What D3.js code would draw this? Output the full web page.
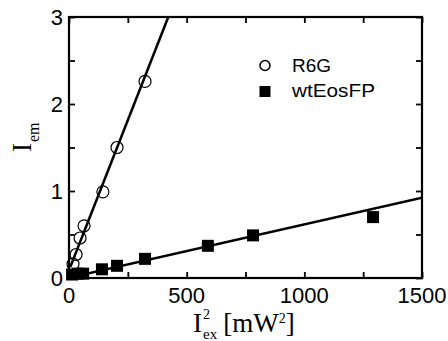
<!DOCTYPE html>
<html>
<head>
<meta charset="utf-8">
<script src="https://cdn.jsdelivr.net/npm/d3@7"></script>
<style>
html,body{margin:0;padding:0;background:#fff;}
svg{display:block;}
</style>
</head>
<body>
<svg id="chart" width="448" height="341"></svg>
<script>
// Data
const r6gX = [17, 30, 47, 64, 144, 204, 323];
const r6gY = [0.16, 0.27, 0.46, 0.60, 0.99, 1.50, 2.26];
const eosX = [13, 38, 60, 140, 204, 323, 590, 782, 1292];
const eosY = [0.04, 0.05, 0.05, 0.10, 0.14, 0.22, 0.37, 0.49, 0.70];
// Linear fits (slope, intercept, x range)
const r6gFit = {slope: 0.0069, intercept: 0.09, x0: 5, x1: 421};
const eosFit = {slope: 0.000613, intercept: 0.003, x0: 0, x1: 1500};
const xTickLabels = [0, 500, 1000, 1500];
const xTicksAll = [0, 250, 500, 750, 1000, 1250, 1500];
const yTickLabels = [0, 1, 2, 3];
const yTicksAll = [0, 0.5, 1, 1.5, 2, 2.5, 3];
const legendLabels = ["R6G", "wtEosFP"];

const svg = d3.select("#chart");
const L = 69, R = 422, T = 17, B = 278;
const x = d3.scaleLinear().domain([0, 1500]).range([L, R]);
const y = d3.scaleLinear().domain([0, 3]).range([B, T]);

const sans = "'Liberation Sans', Arial, sans-serif";
const serif = "'Liberation Serif', 'Times New Roman', serif";

// clip
svg.append("defs").append("clipPath").attr("id", "clip")
  .append("rect").attr("x", L).attr("y", T).attr("width", R - L).attr("height", B - T);

// Axes with inward ticks
const tl = 6;
const gB = svg.append("g").attr("transform", `translate(0,${B})`)
  .call(d3.axisBottom(x).tickValues(xTicksAll).tickSize(-tl).tickFormat(""));
const gT = svg.append("g").attr("transform", `translate(0,${T})`)
  .call(d3.axisTop(x).tickValues(xTicksAll).tickSize(-tl).tickFormat(""));
const gL = svg.append("g").attr("transform", `translate(${L},0)`)
  .call(d3.axisLeft(y).tickValues(yTicksAll).tickSize(-tl).tickFormat(""));
const gR = svg.append("g").attr("transform", `translate(${R},0)`)
  .call(d3.axisRight(y).tickValues(yTicksAll).tickSize(-tl).tickFormat(""));
[gB, gT, gL, gR].forEach(g => {
  g.select(".domain").remove();
  g.selectAll(".tick line").attr("stroke", "#000").attr("stroke-width", 1.8);
});

// frame
svg.append("rect").attr("x", L).attr("y", T).attr("width", R - L).attr("height", B - T)
  .attr("fill", "none").attr("stroke", "#000").attr("stroke-width", 2.2);

// tick labels
svg.append("g").selectAll("text").data(xTickLabels).join("text")
  .attr("x", d => x(d)).attr("y", 303)
  .attr("text-anchor", "middle").attr("font-family", sans).attr("font-size", 22)
  .text(d => d);
svg.append("g").selectAll("text").data(yTickLabels).join("text")
  .attr("x", 63).attr("y", d => y(d) + 8)
  .attr("text-anchor", "end").attr("font-family", sans).attr("font-size", 22)
  .text(d => d);

// fit lines
const line = d3.line().x(d => x(d[0])).y(d => y(d[1]));
const fitPts = f => [[f.x0, f.slope * f.x0 + f.intercept], [f.x1, f.slope * f.x1 + f.intercept]];
const plot = svg.append("g").attr("clip-path", "url(#clip)");
plot.append("path").attr("d", line(fitPts(r6gFit))).attr("stroke", "#000").attr("stroke-width", 2.5).attr("fill", "none");
plot.append("path").attr("d", line(fitPts(eosFit))).attr("stroke", "#000").attr("stroke-width", 2.5).attr("fill", "none");

// markers
const sq = 12;
svg.append("g").selectAll("rect").data(eosX.map((v, i) => [v, eosY[i]])).join("rect")
  .attr("x", d => x(d[0]) - sq / 2).attr("y", d => y(d[1]) - sq / 2)
  .attr("width", sq).attr("height", sq).attr("fill", "#000");
svg.append("g").selectAll("circle").data(r6gX.map((v, i) => [v, r6gY[i]])).join("circle")
  .attr("cx", d => x(d[0])).attr("cy", d => y(d[1])).attr("r", 6)
  .attr("fill", "none").attr("stroke", "#000").attr("stroke-width", 1.2);

// legend
const leg = svg.append("g");
leg.append("circle").attr("cx", 265).attr("cy", 65.5).attr("r", 5)
  .attr("fill", "none").attr("stroke", "#000").attr("stroke-width", 1.5);
leg.append("rect").attr("x", 265 - 5.5).attr("y", 91.5 - 5.5).attr("width", 11).attr("height", 11).attr("fill", "#000");
leg.append("text").attr("x", 292).attr("y", 71.5).attr("font-family", sans).attr("font-size", 19).text(legendLabels[0]);
leg.append("text").attr("x", 292).attr("y", 96.5).attr("font-family", sans).attr("font-size", 19)
  .attr("textLength", 83).attr("lengthAdjust", "spacingAndGlyphs").text(legendLabels[1]);

// x axis label
const xl = svg.append("text").attr("x", 193).attr("y", 332).attr("font-family", serif).attr("font-size", 27);
xl.append("tspan").text("I");
xl.append("tspan").attr("font-size", 14).attr("dy", -13).attr("dx", 1).text("2");
xl.append("tspan").attr("font-size", 15).attr("dy", 20).attr("dx", -7).text("ex");
xl.append("tspan").attr("dy", -7).attr("dx", 6).text("[mW");
xl.append("tspan").attr("font-size", 14).attr("dy", -9).text("2");
xl.append("tspan").attr("dy", 9).text("]");

// y axis label
const yl = svg.append("text").attr("transform", "translate(31,152) rotate(-90)")
  .attr("font-family", serif).attr("font-size", 27);
yl.append("tspan").text("I");
yl.append("tspan").attr("font-size", 16).attr("dy", 8).attr("dx", 1).text("em");
</script>
</body>
</html>
